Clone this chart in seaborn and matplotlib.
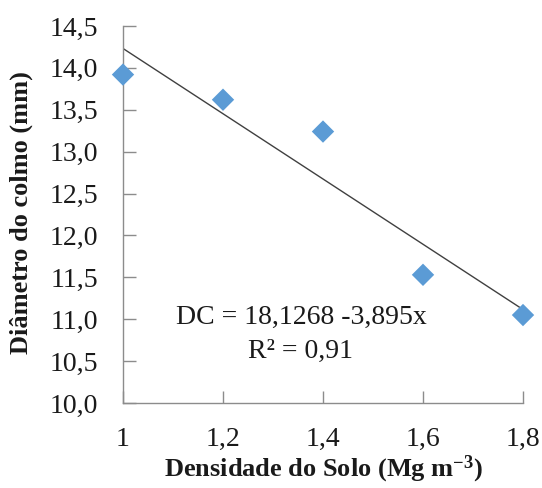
import matplotlib
matplotlib.use("Agg")
import matplotlib.pyplot as plt
import seaborn as sns
import numpy as np
import pandas as pd

density = [1.0, 1.2, 1.4, 1.6, 1.8]
diameter = [13.92, 13.62, 13.24, 11.53, 11.05]
intercept = 18.1268
slope = -3.895
x_ticks = [1.0, 1.2, 1.4, 1.6, 1.8]
x_tick_labels = ["1", "1,2", "1,4", "1,6", "1,8"]
y_ticks = [10.0, 10.5, 11.0, 11.5, 12.0, 12.5, 13.0, 13.5, 14.0, 14.5]
y_tick_labels = ["10,0", "10,5", "11,0", "11,5", "12,0", "12,5", "13,0", "13,5", "14,0", "14,5"]

sns.set_theme(style="white")
plt.rcParams['font.family'] = ['Liberation Serif', 'DejaVu Serif']
plt.rcParams['mathtext.fontset'] = 'custom'
plt.rcParams['mathtext.rm'] = 'Liberation Serif'
plt.rcParams['mathtext.bf'] = 'Liberation Serif:bold'

fig = plt.figure(figsize=(5.42, 4.88), dpi=100)
ax = fig.add_axes([123/542, 1 - 403/488, (523-123)/542, (403-26)/488])

df = pd.DataFrame({"x": density, "y": diameter})
xl = np.array([min(density), max(density)])
line_df = pd.DataFrame({"x": xl, "y": intercept + slope * xl})
sns.lineplot(data=line_df, x="x", y="y", ax=ax, color="#404040", linewidth=1.0)
sns.scatterplot(data=df, x="x", y="y", ax=ax, marker="D", s=130, color="#5B9BD5",
                edgecolor="none", zorder=3, clip_on=False)

ax.set_xlim(1.0, 1.8)
ax.set_ylim(10.0, 14.5)
ax.set_xticks(x_ticks)
ax.set_xticklabels(x_tick_labels)
ax.set_yticks(y_ticks)
ax.set_yticklabels(y_tick_labels)
for s in ["top", "right"]:
    ax.spines[s].set_visible(False)
for s in ["left", "bottom"]:
    ax.spines[s].set_color("#8c8c8c")
    ax.spines[s].set_linewidth(1.0)
ax.tick_params(axis="both", direction="in", length=9, width=1, color="#8c8c8c",
               labelsize=20, labelcolor="#1a1a1a", left=True, bottom=True)
ax.tick_params(axis="x", pad=17)
ax.tick_params(axis="y", pad=18)
ax.set_xlabel(r"Densidade do Solo (Mg m$\mathbf{^{-3}}$)", fontsize=19, fontweight="bold",
              color="#1a1a1a")
ax.set_ylabel("Diâmetro do colmo (mm)", fontsize=19, fontweight="bold", color="#1a1a1a")
ax.xaxis.set_label_coords(0.5, -0.135)
ax.yaxis.set_label_coords(-0.225, 0.505)

ax.text(301/542, 1 - 317/488, "DC = 18,1268 -3,895x", transform=fig.transFigure,
        ha="center", va="center", fontsize=20, color="#1a1a1a")
ax.text(300/542, 1 - 351/488, "R² = 0,91", transform=fig.transFigure,
        ha="center", va="center", fontsize=20, color="#1a1a1a")

fig.savefig("out.png", dpi=100)
